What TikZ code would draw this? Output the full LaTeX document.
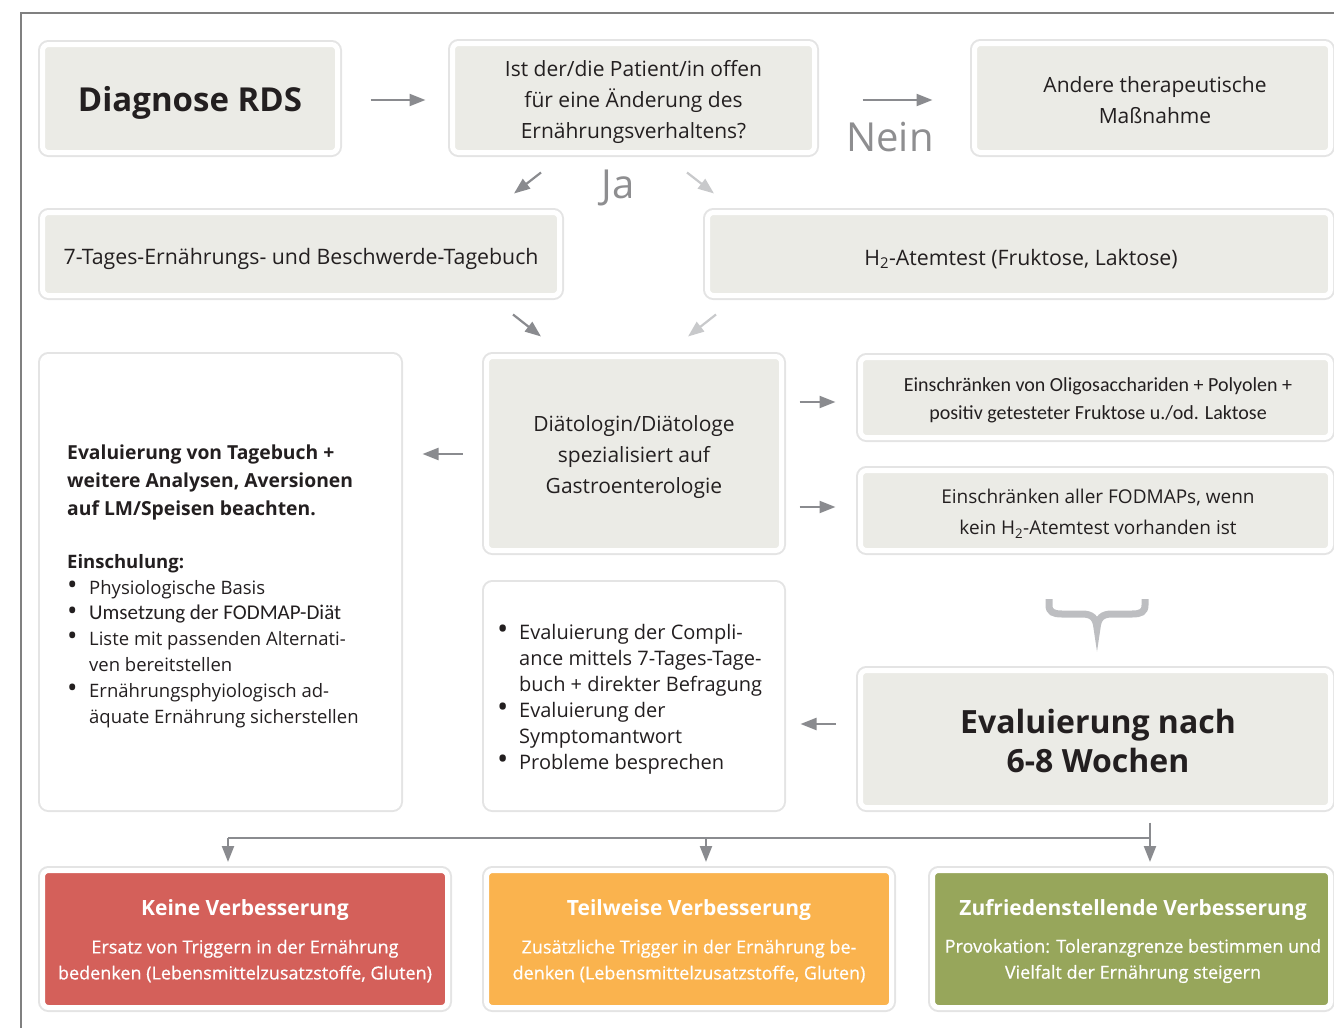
\documentclass[tikz,border=0pt]{standalone}
\usepackage{fontspec}
\setmainfont{Open Sans}
\newfontfamily\narrowfont{Carlito}
\usetikzlibrary{arrows.meta,calc}
\definecolor{boxgray}{HTML}{EBEBE6}
\definecolor{txt}{HTML}{231F20}
\definecolor{shadowc}{HTML}{E4E4E4}
\definecolor{arrgray}{HTML}{8A8B8F}
\definecolor{lightarr}{HTML}{C8C9CB}
\definecolor{framec}{HTML}{808080}
\definecolor{labelgray}{HTML}{8E8E90}
\definecolor{redc}{HTML}{D4605A}
\definecolor{orangec}{HTML}{FAB34E}
\definecolor{greenc}{HTML}{97A65B}
\definecolor{bracec}{HTML}{BDBEC1}
\newcommand{\fs}[2]{\fontsize{#1}{#2}\selectfont}
\newcommand{\bl}{\makebox[22pt][l]{\raisebox{-0.3pt}{\scalebox{1.5}{\textbullet}}}}
\newcommand{\ind}{\hspace*{22pt}}
\begin{document}
\begin{tikzpicture}[x=1pt,y=-1pt,
  base/.style={draw=white, line width=5pt, rounded corners=6pt, inner sep=0pt,
    align=center, text=txt, preaction={draw=shadowc, line width=9pt}},
  gbox/.style={base, fill=boxgray},
  wbox/.style={base, fill=white},
  cbox/.style={base, fill=#1, text=white},
  btext/.style={text=txt, align=center, inner sep=0pt},
  ltext/.style={text=txt, align=left, inner sep=0pt, anchor=north west},
  wtitle/.style={text=white, font=\fs{21}{26}\bfseries, inner sep=0pt},
  wbody/.style={text=white, font=\fs{18}{26}\addfontfeature{FakeBold=0.6}, align=center, inner sep=0pt},
  arr/.style={draw=arrgray, line width=2.2pt, -{Triangle[length=16pt,width=12pt]}},
  larr/.style={arr, draw=lightarr},
  lab/.style={text=labelgray, font=\fs{40}{44}, inner sep=0pt}
]
\useasboundingbox (0,0) rectangle (1334,1028);
% frame
\draw[framec, line width=1.2pt] (21,1028) -- (21,13) -- (1334,13);

% row 1
\node[gbox, minimum width=295pt, minimum height=108pt] (diag) at (190,98.5) {};
\node[btext, font=\fs{33}{40}\bfseries] (diagT) at (190,103) {Diagnose RDS};
\node[gbox, minimum width=362pt, minimum height=109pt] (quest) at (633.5,98) {};
\node[btext, font=\fs{21}{31}] (questT) at (633.5,101.5) {Ist der/die Patient/in offen\\für eine Änderung des\\Ernährungsverhaltens?};
\node[gbox, minimum width=356pt, minimum height=109pt] (andere) at (1152.5,98) {};
\node[btext, font=\fs{21}{31}] (andereT) at (1155,100) {Andere therapeutische\\Maßnahme};
\node[lab] (nein) at (890,137) {Nein};
\node[lab] (ja) at (618,188) {Ja};

\draw[arr] ($(diag.east)+(30.5,1.5)$) -- ($(quest.west)+(-24.5,2)$);
\draw[arr] ($(quest.east)+(45.5,2)$) -- ($(andere.west)+(-39.5,2)$);

% row 2
\node[gbox, minimum width=517pt, minimum height=83pt] (tage) at (301,254) {};
\node[btext, font=\fs{21.3}{28}] (tageT) at (301,259) {7-Tages-Ernährungs- und Beschwerde-Tagebuch};
\node[gbox, minimum width=623pt, minimum height=83pt] (htest) at (1019,254) {};
\node[btext, font=\fs{21.3}{28}] (htestT) at (1021,259) {H\textsubscript{2}-Atemtest (Fruktose, Laktose)};

\draw[arr] ($(quest.south)+(-92.5,17.5)$) -- ($(tage.north)+(213,-16.5)$);
\draw[larr] ($(quest.south)+(53.5,17.5)$) -- ($(htest.north)+(-305,-16.5)$);

% row 3
\node[wbox, minimum width=356pt, minimum height=451pt] (leftbox) at (220.5,582) {};
\node[gbox, minimum width=295pt, minimum height=194pt] (diaet) at (634,453.5) {};
\node[btext, font=\fs{21}{31}] (diaetT) at (634,457.5) {Diätologin/Diätologe\\spezialisiert auf\\Gastroenterologie};
\node[gbox, minimum width=470pt, minimum height=80pt] (ein1) at (1095.5,397.5) {};
\node[btext, font=\narrowfont\fs{20}{28}] (ein1T) at (1098,400) {Einschränken von Oligosacchariden + Polyolen +\\positiv getesteter Fruktose u./od. Laktose};
\node[gbox, minimum width=470pt, minimum height=80pt] (ein2) at (1095.5,510.5) {};
\node[btext, font=\fs{19}{31}] (ein2T) at (1098,514) {Einschränken aller FODMAPs, wenn\\kein H\textsubscript{2}-Atemtest vorhanden ist};

\draw[arr] ($(tage.south)+(212,16.5)$) -- ($(diaet.north)+(-93,-17.5)$);
\draw[larr] ($(htest.south)+(-303,16.5)$) -- ($(diaet.north)+(54,-17.5)$);

\node[ltext, font=\fs{19.3}{28}\bfseries] (lefthead) at (67,445) {Evaluierung von Tagebuch +\\weitere Analysen, Aversionen\\auf LM/Speisen beachten.};
\node[ltext, font=\fs{18.5}{25.8}] (leftlist) at (67,554) {\textbf{Einschulung:}\\
\bl Physiologische Basis\\
\bl{\narrowfont\fs{21}{25.8}Umsetzung der FODMAP-Diät}\\
\bl Liste mit passenden Alternati-\\
\ind ven bereitstellen\\
\bl Ernährungsphyiologisch ad-\\
\ind äquate Ernährung sicherstellen};

\draw[arr] ($(diaet.west)+(-21.5,0.5)$) -- ($(diaet.west)+(-61.5,0.5)$);
\draw[arr] ($(diaet.east)+(15.5,-51.5)$) -- ($(ein1.west)+(-22.5,4.5)$);
\draw[arr] ($(diaet.east)+(15.5,53.5)$) -- ($(ein2.west)+(-22.5,-3.5)$);

% brace
\draw[bracec, line width=7pt] (1049,599) -- (1049,605) .. controls (1049,612) and (1053,614) .. (1062,614) -- (1082,614) .. controls (1092,614) and (1096,618) .. (1097,628) .. controls (1098,618) and (1102,614) .. (1112,614) -- (1132,614) .. controls (1141,614) and (1145,612) .. (1145,605) -- (1145,599);

% row 4
\node[wbox, minimum width=295pt, minimum height=223pt] (bullbox) at (634,696) {};
\node[ltext, font=\fs{20}{26}] (bulltext) at (497,624) {\bl Evaluierung der Compli-\\
\ind ance mittels 7-Tages-Tage-\\
\ind buch + direkter Befragung\\
\bl Evaluierung der\\
\ind Symptomantwort\\
\bl Probleme besprechen};
\node[gbox, minimum width=470pt, minimum height=137pt] (evnach) at (1095.5,739) {};
\node[btext, font=\fs{32}{39}\bfseries] (evnachT) at (1098,741) {Evaluierung nach\\6-8 Wochen};
\draw[arr] ($(evnach.west)+(-22.5,-15)$) -- ($(bullbox.east)+(16.5,28)$);

% bottom
\node[cbox=redc, minimum width=405pt, minimum height=137pt] (red) at (245,939) {};
\node[cbox=orangec, minimum width=405pt, minimum height=137pt] (orange) at (689,939) {};
\node[cbox=greenc, minimum width=398pt, minimum height=137pt] (green) at (1131.5,939) {};

\node[wtitle] (redT) at (245,910) {Keine Verbesserung};
\node[wbody] (redB) at (245,961) {Ersatz von Triggern in der Ernährung\\bedenken (Lebensmittelzusatzstoffe, Gluten)};
\node[wtitle] (orangeT) at (689,910) {Teilweise Verbesserung};
\node[wbody] (orangeB) at (689,961) {Zusätzliche Trigger in der Ernährung be-\\denken (Lebensmittelzusatzstoffe, Gluten)};
\node[wtitle] (greenT) at (1133,910) {Zufriedenstellende Verbesserung};
\node[wbody] (greenB) at (1133,961) {Provokation: Toleranzgrenze bestimmen und\\Vielfalt der Ernährung steigern};

\coordinate (split) at (1150,838);
\coordinate (leftend) at (228,838);
\coordinate (midpt) at (706,838);
\draw[arrgray, line width=2.2pt] ($(evnach.south)+(54.5,12.5)$) -- (split);
\draw[arrgray, line width=2.2pt] (split) -- (leftend);
\draw[arr] (split) -- ($(split)+(0,24)$);
\draw[arr] (leftend) -- ($(leftend)+(0,24)$);
\draw[arr] (midpt) -- ($(midpt)+(0,24)$);
\end{tikzpicture}
\end{document}
